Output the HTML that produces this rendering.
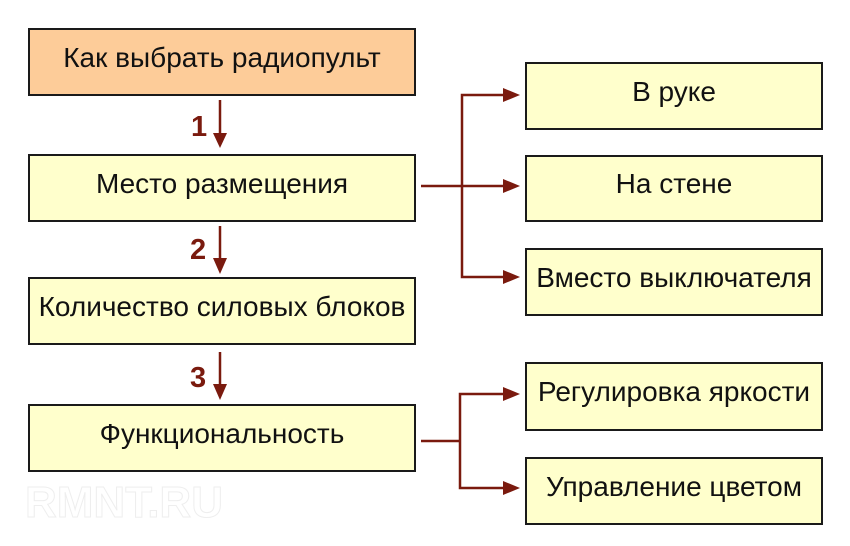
<!DOCTYPE html>
<html><head><meta charset="utf-8"><style>
body{margin:0;width:850px;height:546px;background:#fff;overflow:hidden;position:relative;font-family:"Liberation Sans",sans-serif}
.b{position:absolute;box-sizing:border-box;border:2.5px solid #1a1a1a;background:#ffffcc;display:flex;align-items:center;justify-content:center;font-size:28px;color:#111;padding-bottom:9px}
</style></head><body>
<div class="b" style="left:28px;top:28px;width:388px;height:68px;background:#fdcc99">Как выбрать радиопульт</div>
<div class="b" style="left:28px;top:154px;width:388px;height:68px">Место размещения</div>
<div class="b" style="left:28px;top:277px;width:388px;height:68px">Количество силовых блоков</div>
<div class="b" style="left:28px;top:404px;width:388px;height:68px">Функциональность</div>
<div class="b" style="left:525px;top:62px;width:298px;height:68px">В руке</div>
<div class="b" style="left:525px;top:155px;width:298px;height:67px">На стене</div>
<div class="b" style="left:525px;top:248px;width:298px;height:68px">Вместо выключателя</div>
<div class="b" style="left:525px;top:362px;width:298px;height:69px">Регулировка яркости</div>
<div class="b" style="left:525px;top:457px;width:298px;height:68px">Управление цветом</div>
<div style="position:absolute;left:25px;top:478px;font-size:44px;font-weight:bold;color:#fff;-webkit-text-stroke:1px #eee">RMNT.RU</div>
<svg width="850" height="546" style="position:absolute;left:0;top:0" fill="#7a1a0e" stroke="#7a1a0e">
<g stroke-width="2.5" fill="none">
<line x1="220" y1="100" x2="220" y2="135"/>
<line x1="220" y1="226" x2="220" y2="260"/>
<line x1="220" y1="352" x2="220" y2="386"/>
<line x1="421" y1="186" x2="505" y2="186"/>
<polyline points="505,95 462,95 462,277 505,277"/>
<line x1="421" y1="441" x2="460" y2="441"/>
<polyline points="505,394 460,394 460,488 505,488"/>
</g>
<g stroke="none">
<polygon points="213,133 227,133 220,148"/>
<polygon points="213,258 227,258 220,274"/>
<polygon points="213,384 227,384 220,400"/>
<polygon points="503,88 503,102 520,95"/>
<polygon points="503,179 503,193 520,186"/>
<polygon points="503,270 503,284 520,277"/>
<polygon points="503,387 503,401 520,394"/>
<polygon points="503,481 503,495 520,488"/>
</g>
<g stroke="none" font-family="Liberation Sans,sans-serif" font-weight="bold" font-size="29">
<text x="191" y="136">1</text><text x="190" y="259">2</text><text x="190" y="387">3</text>
</g>
</svg>
</body></html>
